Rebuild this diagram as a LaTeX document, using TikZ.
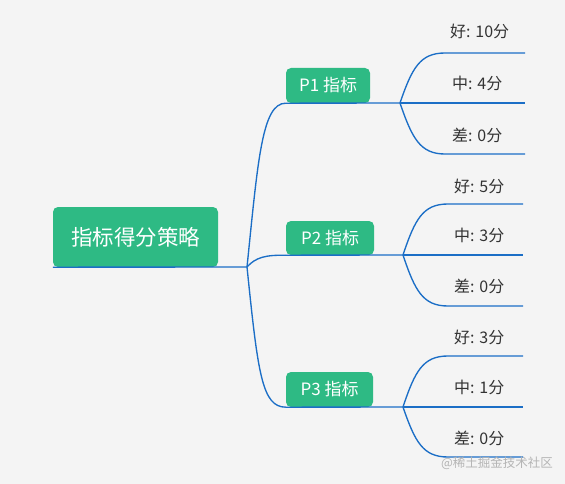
\documentclass[tikz,border=0pt]{standalone}
\usepackage{fontspec}
\setmainfont{Noto Sans CJK SC}
\definecolor{bgc}{HTML}{F4F4F4}
\definecolor{boxc}{HTML}{2EBA84}
\definecolor{linec}{HTML}{1B6EC6}
\definecolor{txtc}{HTML}{333333}
\definecolor{wmc}{HTML}{B4B4B4}
\tikzset{
  box/.style={fill=boxc, rounded corners=5pt, inner sep=0pt, text=white},
  conn/.style={draw=linec, line width=1.35pt},
  leaf/.style={anchor=west, text=txtc, inner sep=0pt, font=\fontsize{16}{18}\selectfont},
}
\begin{document}
\begin{tikzpicture}[x=1pt,y=-1pt]
\fill[bgc] (0,0) rectangle (565,484);
\useasboundingbox (0,0) rectangle (565,484);
% boxes
\node[box, minimum width=165pt, minimum height=60pt, font=\fontsize{21.5}{24}\selectfont] (root) at (135.5,237) {指标得分策略};
\node[box, minimum width=84pt, minimum height=35pt, font=\fontsize{17}{20}\selectfont] (p1) at (328,85.5) {P1 指标};
\node[box, minimum width=88pt, minimum height=34pt, font=\fontsize{17}{20}\selectfont] (p2) at (330,238) {P2 指标};
\node[box, minimum width=87pt, minimum height=35pt, font=\fontsize{17}{20}\selectfont] (p3) at (329.5,389.5) {P3 指标};
% junctions
\coordinate (j0) at (247,267);
\coordinate (j1) at (400,103);
\coordinate (j2) at (403,255);
\coordinate (j3) at (403,407);
% root connectors
\draw[conn] (root.south west) -- (j0);
\draw[conn] (j0) .. controls (258,160) and (262,103) .. (p1.south west);
\draw[conn] (j0) .. controls (256,257) and (266,255) .. (p2.south west);
\draw[conn] (j0) .. controls (258,374) and (262,407) .. (p3.south west);
\draw[conn] (p1.south west) -- (j1);
\draw[conn] (p2.south west) -- (j2);
\draw[conn] (p3.south west) -- (j3);
% leaf line ends
\coordinate (e11) at (525,53);  \coordinate (e12) at (525,103); \coordinate (e13) at (525,154);
\coordinate (e21) at (523,204); \coordinate (e22) at (523,255); \coordinate (e23) at (523,306);
\coordinate (e31) at (523,356); \coordinate (e32) at (523,407); \coordinate (e33) at (523,457);
\coordinate (b11) at (445,53);  \coordinate (b13) at (445,154);
\coordinate (b21) at (448,204); \coordinate (b23) at (448,306);
\coordinate (b31) at (448,356); \coordinate (b33) at (448,457);
\draw[conn] (j1) .. controls (412,68) and (420,53) .. (b11) -- (e11);
\draw[conn] (j1) -- (e12);
\draw[conn] (j1) .. controls (412,138) and (420,154) .. (b13) -- (e13);
\draw[conn] (j2) .. controls (415,219) and (423,204) .. (b21) -- (e21);
\draw[conn] (j2) -- (e22);
\draw[conn] (j2) .. controls (415,291) and (423,306) .. (b23) -- (e23);
\draw[conn] (j3) .. controls (415,371) and (423,356) .. (b31) -- (e31);
\draw[conn] (j3) -- (e32);
\draw[conn] (j3) .. controls (415,442) and (423,457) .. (b33) -- (e33);
% leaf texts
\node[leaf] (t11) at (450,31) {好: 10分};
\node[leaf] (t12) at (452,83) {中: 4分};
\node[leaf] (t13) at (452,135) {差: 0分};
\node[leaf] (t21) at (454,186) {好: 5分};
\node[leaf] (t22) at (454,235) {中: 3分};
\node[leaf] (t23) at (454,286) {差: 0分};
\node[leaf] (t31) at (454,337) {好: 3分};
\node[leaf] (t32) at (454,387) {中: 1分};
\node[leaf] (t33) at (454,438) {差: 0分};
% watermark
\node[text=wmc, font=\fontsize{12.5}{14}\selectfont, inner sep=0pt] (wm) at (497,463) {@稀土掘金技术社区};
\end{tikzpicture}
\end{document}
